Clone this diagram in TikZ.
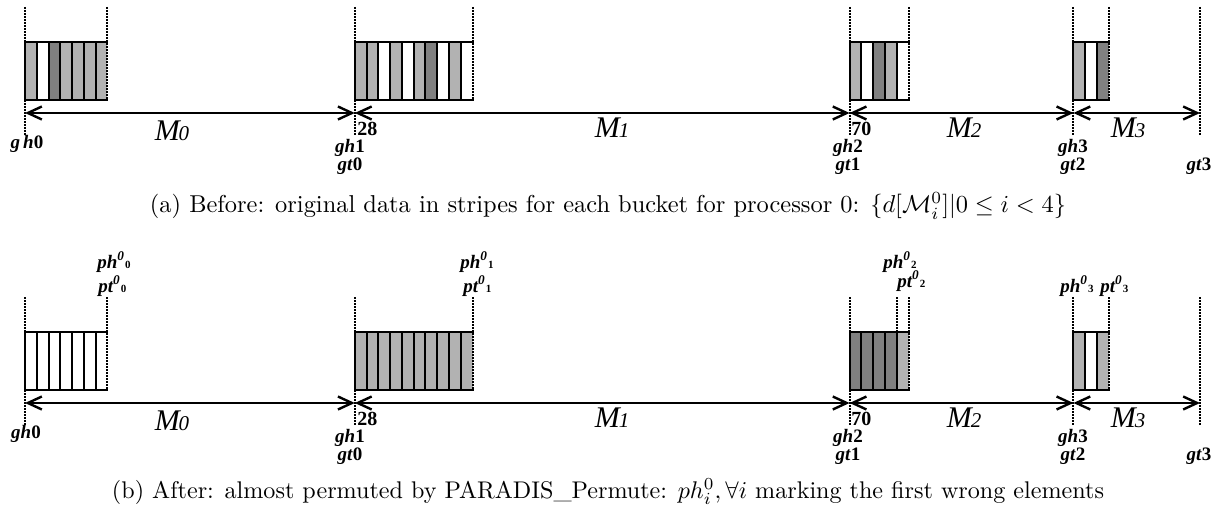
\documentclass[tikz,border=0pt]{standalone}
\usepackage{graphicx}
\usepackage{fontspec}
\newfontfamily\tms{Liberation Serif}
\usetikzlibrary{arrows.meta}
\definecolor{cl}{gray}{0.70}
\definecolor{cd}{gray}{0.50}
\definecolor{cw}{gray}{1}
\tikzset{
  dots/.style={line width=1pt, dash pattern=on 0.8pt off 0.7pt},
  dim/.style={line width=1.4pt, {Straight Barb[length=7pt,width=6.5pt,line width=1.2pt]}-{Straight Barb[length=7pt,width=6.5pt,line width=1.2pt]}},
  boxline/.style={line width=1pt, line cap=rect},
  lab/.style={font=\tms\bfseries\itshape\fontsize{9.5}{10}\selectfont, inner sep=0pt},
  num/.style={font=\tms\bfseries\fontsize{10}{11}\selectfont, inner sep=0pt, anchor=west},
  mlab/.style={font=\tms\itshape, inner sep=0pt},
  plab/.style={font=\tms\bfseries\itshape\fontsize{9.5}{10}\selectfont, inner sep=0pt, anchor=base west},
  captxt/.style={inner sep=0pt}
}
\newcommand\ML[1]{{\fontsize{15}{15}\selectfont M}\kern-0.5pt{\fontsize{10.5}{11}\selectfont #1}}
\newcommand\PL[2]{#1\textsuperscript{0}{\fontsize{5.5}{6}\selectfont\upshape #2}}
\newcommand\GL[2]{#1\textup{#2}}
\newcommand\stripes[3]{%
  \foreach[count=\i from 0] \c in {#3} {
    \fill[\c] ({#1+\i*11.78},#2) rectangle ++(11.78,58);
    \draw[boxline] ({#1+(\i+1)*11.78},#2) -- ({#1+\i*11.78},#2) -- ({#1+\i*11.78},#2+58) -- ({#1+(\i+1)*11.78},#2+58);
  }%
}
\begin{document}
\begin{tikzpicture}[x=0.5pt,y=-0.5pt]
\useasboundingbox (0,0) rectangle (1216,519);

% ---------- buckets (a)
\stripes{25}{42}{cl,cw,cd,cl,cl,cl,cl}
\stripes{354.8}{42}{cl,cl,cw,cl,cw,cl,cd,cw,cl,cw}
\stripes{849.6}{42}{cl,cw,cd,cl,cw}
\stripes{1073.4}{42}{cl,cw,cd}
% ---------- buckets (b)
\stripes{25}{332}{cw,cw,cw,cw,cw,cw,cw}
\stripes{354.8}{332}{cl,cl,cl,cl,cl,cl,cl,cl,cl,cl}
\stripes{849.6}{332}{cd,cd,cd,cd,cl}
\stripes{1073.4}{332}{cl,cw,cl}

% ---------- axes, dotted lines and dimension arrows
\foreach \p/\o in {a/0,b/290} {
  \foreach \n/\x in {0/25,1/354.8,2/849.6,3/1073.4,4/1200} {
    \coordinate (\p t\n) at (\x,7+\o);
    \coordinate (\p b\n) at (\x,135+\o);
    \coordinate (\p m\n) at (\x,113+\o);
    \draw[dots] (\p t\n) -- (\p b\n);
  }
  \foreach \x in {107.46,472.6,908.5,1108.7} {
    \draw[dots] (\x,7+\o) -- (\x,100+\o);
  }
  \draw[dim] (\p m0) -- (\p m1);
  \draw[dim] (\p m1) -- (\p m2);
  \draw[dim] (\p m2) -- (\p m3);
  \draw[dim] (\p m3) -- (\p m4);
  \node[mlab] (\p M0) at (172,131+\o) {\ML{0}};
  \node[mlab] (\p M1) at (612,128+\o) {\ML{1}};
  \node[mlab] (\p M2) at (964,128+\o) {\ML{2}};
  \node[mlab] (\p M3) at (1128,128+\o) {\ML{3}};
  \node[num] (\p n28) at (357,129+\o) {28};
  \node[num] (\p n70) at (851,129+\o) {70};
  \node[lab] (\p gh1) at (350,148+\o) {\GL{gh}{1}};
  \node[lab] (\p gt0) at (350,166+\o) {\GL{gt}{0}};
  \node[lab] (\p gh2) at (848,148+\o) {\GL{gh}{2}};
  \node[lab] (\p gt1) at (848,166+\o) {\GL{gt}{1}};
  \node[lab] (\p gh3) at (1073,148+\o) {\GL{gh}{3}};
  \node[lab] (\p gt2) at (1073,166+\o) {\GL{gt}{2}};
  \node[lab] (\p gt3) at (1199,166+\o) {\GL{gt}{3}};
}
\draw[dots] (896.7,297) -- (896.7,390);
\node[lab] (agh0) at (27,144) {\GL{g\kern1.5pt h}{0}};
\node[lab] (bgh0) at (26,434) {\GL{gh}{0}};

% ---------- ph / pt labels (b)
\node[plab] (ph0) at (97,268) {\PL{ph}{0}};
\node[plab] (pt0) at (98,292) {\PL{pt}{0}};
\node[plab] (ph1) at (460,268) {\PL{ph}{1}};
\node[plab] (pt1) at (463,292) {\PL{pt}{1}};
\node[plab] (ph2) at (883,268) {\PL{ph}{2}};
\node[plab] (pt2) at (897,287) {\PL{pt}{2}};
\node[plab] (ph3) at (1060,292) {\PL{ph}{3}};
\node[plab] (pt3) at (1100,292) {\PL{pt}{3}};

% ---------- captions
\node[captxt] (capa) at (608,206) {\resizebox{458pt}{!}{(a) Before: original data in stripes for each bucket for processor 0: $\{d[\mathcal{M}_i^0]|0\leq i<4\}$}};
\node[captxt] (capb) at (608,492) {\resizebox{496pt}{!}{(b) After: almost permuted by PARADIS\_Permute: $ph_i^0,\forall i$ marking the first wrong elements}};
\end{tikzpicture}
\end{document}
